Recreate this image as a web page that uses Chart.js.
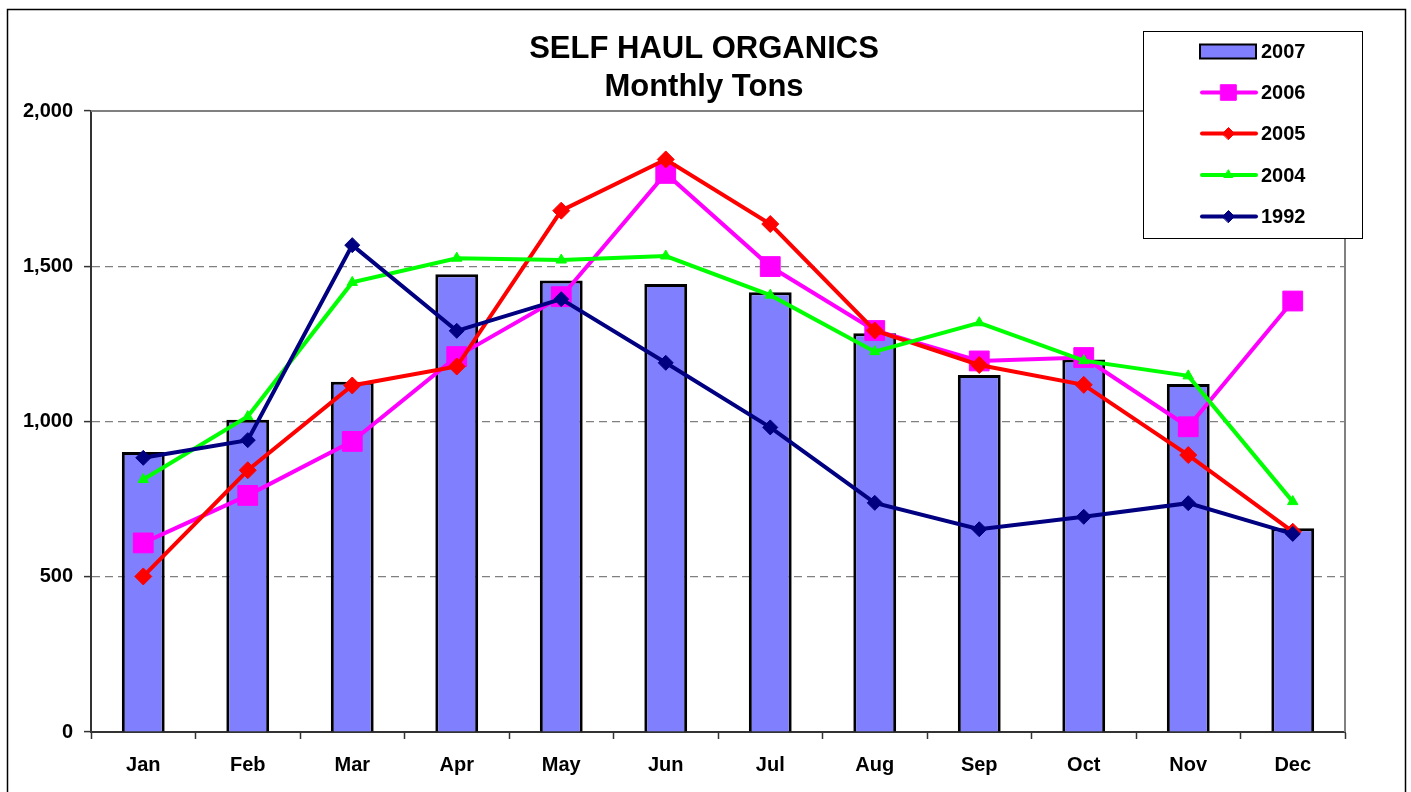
<!DOCTYPE html>
<html>
<head>
<meta charset="utf-8">
<script src="https://cdn.jsdelivr.net/npm/chart.js@4/dist/chart.umd.min.js"></script>
<style>
  html, body { margin: 0; padding: 0; background: #fff; }
  #wrap { width: 1411px; height: 792px; position: relative; }
</style>
</head>
<body>
<div id="wrap"><canvas id="c" width="1411" height="792"></canvas></div>
<script>
const months = ['Jan','Feb','Mar','Apr','May','Jun','Jul','Aug','Sep','Oct','Nov','Dec'];
const tons2007 = [902, 1006, 1128, 1474, 1454, 1443, 1416, 1284, 1150, 1200, 1121, 656];
const tons2006 = [609, 762, 936, 1209, 1402, 1799, 1499, 1293, 1195, 1206, 983, 1388];
const tons2005 = [501, 843, 1116, 1177, 1679, 1844, 1636, 1293, 1182, 1118, 892, 645];
const tons2004 = [813, 1016, 1448, 1526, 1520, 1533, 1407, 1225, 1318, 1196, 1147, 742];
const tons1992 = [883, 940, 1568, 1292, 1394, 1189, 981, 738, 653, 693, 737, 638];
const titleLines = ['SELF HAUL ORGANICS', 'Monthly Tons'];
const yTicks = [0, 500, 1000, 1500, 2000];

const FONT = '"Liberation Sans", Arial, sans-serif';

const legendItems = [
  { label: '2007', type: 'bar', color: '#8080FF' },
  { label: '2006', type: 'line', color: '#FF00FF', style: 'rect', radius: 11 },
  { label: '2005', type: 'line', color: '#FF0000', style: 'rectRot', radius: 6 },
  { label: '2004', type: 'line', color: '#00FF00', style: 'triangle', radius: 5 },
  { label: '1992', type: 'line', color: '#000080', style: 'rectRot', radius: 6 }
];

const decor = {
  id: 'decor',
  beforeDraw(chart) {
    const ctx = chart.ctx;
    ctx.save();
    ctx.fillStyle = '#fff';
    ctx.fillRect(0, 0, chart.width, chart.height);
    ctx.restore();
  },
  beforeDatasetsDraw(chart) {
    const ctx = chart.ctx, a = chart.chartArea;
    ctx.save();
    ctx.strokeStyle = '#808080';
    ctx.lineWidth = 2;
    ctx.beginPath();
    ctx.moveTo(a.left, a.top);
    ctx.lineTo(a.right, a.top);
    ctx.lineTo(a.right, a.bottom);
    ctx.stroke();
    ctx.restore();
  },
  afterDraw(chart) {
    const ctx = chart.ctx;
    ctx.save();
    // outer frame
    ctx.strokeStyle = '#000';
    ctx.lineWidth = 1.5;
    ctx.strokeRect(7.5, 9.5, 1398, 800);
    // title
    ctx.fillStyle = '#000';
    ctx.textAlign = 'center';
    ctx.textBaseline = 'alphabetic';
    ctx.font = 'bold 31px ' + FONT;
    ctx.fillText(titleLines[0], 704, 58);
    ctx.fillText(titleLines[1], 704, 96);
    // legend
    ctx.lineWidth = 1;
    ctx.strokeStyle = '#000';
    ctx.fillStyle = '#fff';
    ctx.fillRect(1143.5, 31.5, 219, 207);
    ctx.strokeRect(1143.5, 31.5, 219, 207);
    const ys = [51.5, 92.5, 133.5, 175, 216.5];
    ctx.font = 'bold 20px ' + FONT;
    ctx.textAlign = 'left';
    ctx.textBaseline = 'middle';
    legendItems.forEach((it, i) => {
      const y = ys[i];
      if (it.type === 'bar') {
        ctx.fillStyle = it.color;
        ctx.fillRect(1200, y - 7, 56, 14);
        ctx.strokeStyle = '#000';
        ctx.lineWidth = 2;
        ctx.strokeRect(1200, y - 7, 56, 14);
      } else {
        ctx.strokeStyle = it.color;
        ctx.lineWidth = 4;
        ctx.lineCap = 'round';
        ctx.beginPath();
        ctx.moveTo(1202, y);
        ctx.lineTo(1256, y);
        ctx.stroke();
        ctx.fillStyle = it.color;
        ctx.lineWidth = 1;
        Chart.helpers.drawPoint(ctx, { pointStyle: it.style, radius: it.radius, rotation: 0, borderWidth: 1 }, 1228.5, y);
      }
      ctx.fillStyle = '#000';
      ctx.fillText(it.label, 1261, y + 1);
    });
    ctx.restore();
  }
};

function lineSet(label, data, color, style, radius, order) {
  return {
    type: 'line', label, data, order,
    borderColor: color, backgroundColor: color,
    borderWidth: 4, pointStyle: style, pointRadius: radius,
    pointBorderWidth: 1, pointBorderColor: color, pointBackgroundColor: color,
    pointHoverRadius: radius, tension: 0, fill: false
  };
}

new Chart(document.getElementById('c'), {
  type: 'bar',
  data: {
    labels: months,
    datasets: [
      { type: 'bar', label: '2007', data: tons2007, order: 5,
        backgroundColor: '#8080FF', borderColor: '#000', borderWidth: 3,
        barPercentage: 0.41, categoryPercentage: 1.0 },
      lineSet('2006', tons2006, '#FF00FF', 'rect', 14, 4),
      lineSet('2005', tons2005, '#FF0000', 'rectRot', 8.5, 3),
      lineSet('2004', tons2004, '#00FF00', 'triangle', 6, 2),
      lineSet('1992', tons1992, '#000080', 'rectRot', 7.5, 1)
    ]
  },
  options: {
    responsive: false,
    devicePixelRatio: 1,
    animation: false,
    events: [],
    layout: { padding: { top: 111, right: 66, left: 0, bottom: 0 } },
    plugins: { legend: { display: false }, title: { display: false }, tooltip: { enabled: false } },
    scales: {
      x: {
        offset: true,
        grid: { offset: true, drawOnChartArea: false, drawTicks: true, tickLength: 7, tickColor: '#333', tickWidth: 1.5 },
        border: { color: '#333', width: 2 },
        ticks: { color: '#000', font: { family: FONT, size: 20, weight: 'bold' }, padding: 14, maxRotation: 0 },
        afterFit(s) { s.height = 60; }
      },
      y: {
        min: 0, max: 2000,
        afterBuildTicks(s) { s.ticks = yTicks.map(v => ({ value: v })); },
        grid: {
          color: ctx => (ctx.tick && ctx.tick.value > 0) ? '#808080' : 'rgba(0,0,0,0)',
          lineWidth: 1.2, tickLength: 7, tickColor: '#333', tickWidth: 1.5, tickBorderDash: []
        },
        border: { color: '#333', width: 2, dash: [8, 5] },
        ticks: {
          color: '#000', font: { family: FONT, size: 20, weight: 'bold' }, padding: 11,
          callback: v => v.toLocaleString('en-US')
        },
        afterFit(s) { s.width = 91; }
      }
    }
  },
  plugins: [decor]
});
</script>
</body>
</html>
